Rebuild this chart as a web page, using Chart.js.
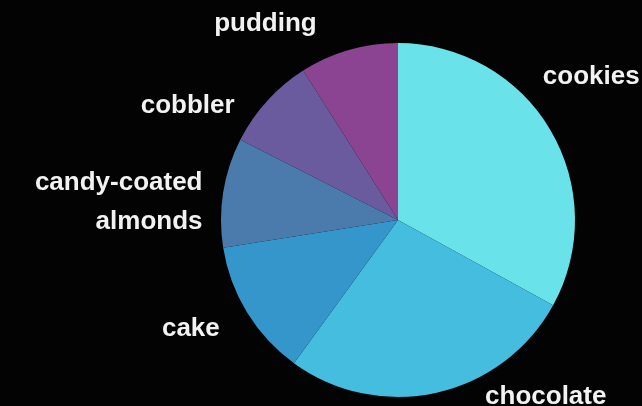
<!DOCTYPE html>
<html>
<head>
<meta charset="utf-8">
<script src="https://cdn.jsdelivr.net/npm/chart.js@4"></script>
<style>
  html, body { margin: 0; padding: 0; background: #030303; }
  #wrap { width: 642px; height: 406px; position: relative; }
</style>
</head>
<body>
<div id="wrap"><canvas id="pieChart"></canvas></div>
<script>
// desserts, share of answers (%)
const categories = ['cookies', 'chocolate', 'cake', ['candy-coated', 'almonds'], 'cobbler', 'pudding'];
const shares = [33, 27, 12.5, 10, 8.5, 9];
const sliceColors = ['#6ae2ea', '#44bddf', '#3596cb', '#4b7bad', '#6a5b9f', '#8a4492'];

// small per-label nudges so the text sits where the original put it
const labelNudge = [[-29, -40], [43, -20], [-6, 3], [4, 14], [-14, 22], [-25, -2]];

const background = {
    id: 'background',
    beforeDraw(chart) {
        const c = chart.ctx;
        c.save();
        c.fillStyle = '#030303';
        c.fillRect(0, 0, chart.width, chart.height);
        c.restore();
    }
};

const outsideLabels = {
    id: 'outsideLabels',
    afterDatasetsDraw(chart, args, opts) {
        const c = chart.ctx;
        const arcs = chart.getDatasetMeta(0).data;
        c.save();
        c.font = opts.font;
        c.fillStyle = opts.color;
        c.textBaseline = 'middle';
        arcs.forEach((arc, i) => {
            const mid = (arc.startAngle + arc.endAngle) / 2;
            const r = arc.outerRadius + opts.offset;
            const nudge = opts.nudge[i] || [0, 0];
            const x = arc.x + Math.cos(mid) * r + nudge[0];
            const y = arc.y + Math.sin(mid) * r + nudge[1];
            const lines = [].concat(chart.data.labels[i]);
            c.textAlign = Math.cos(mid) >= 0 ? 'left' : 'right';
            const top = y - (lines.length - 1) * opts.lineHeight / 2;
            lines.forEach((t, k) => c.fillText(t, x, top + k * opts.lineHeight));
        });
        c.restore();
    }
};

new Chart(document.getElementById('pieChart'), {
    type: 'pie',
    data: {
        labels: categories,
        datasets: [{
            data: shares,
            backgroundColor: sliceColors,
            borderWidth: 0
        }]
    },
    options: {
        responsive: true,
        maintainAspectRatio: false,
        animation: false,
        layout: { padding: { top: 43, bottom: 9, left: 221, right: 67 } },
        plugins: {
            legend: { display: false },
            tooltip: { enabled: false },
            outsideLabels: {
                font: 'bold 26px "Liberation Sans", Arial, sans-serif',
                color: '#f2f2f2',
                offset: 25,
                lineHeight: 39,
                nudge: labelNudge
            }
        }
    },
    plugins: [background, outsideLabels]
});
</script>
</body>
</html>
